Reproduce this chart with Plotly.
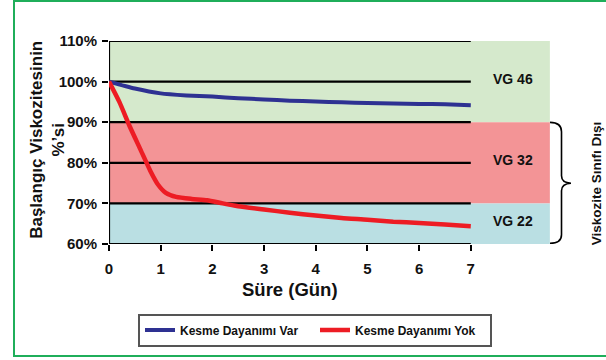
import plotly.graph_objects as go

# ---- data ----
days_var = [0, 0.5, 1, 1.5, 2, 2.5, 3, 3.5, 4, 4.5, 5, 5.5, 6, 6.5, 7]
visc_var = [100, 98.3, 97.1, 96.6, 96.3, 95.9, 95.6, 95.3, 95.1, 94.9, 94.7, 94.6, 94.5, 94.4, 94.2]

days_yok = [0, 0.2, 0.4, 0.6, 0.8, 0.95, 1.1, 1.3, 1.6, 1.9, 2.2, 2.5, 3, 3.5, 4, 4.5, 5, 5.5, 6, 6.5, 7]
visc_yok = [100, 95, 89, 83.5, 78, 74.6, 72.6, 71.6, 71.1, 70.8, 70.0, 69.3, 68.5, 67.7, 67.0, 66.4, 66.0, 65.5, 65.2, 64.8, 64.4]

series_names = ["Kesme Dayanımı Var", "Kesme Dayanımı Yok"]
series_colors = ["#2e3192", "#ed1c24"]

y_ticks = [60, 70, 80, 90, 100, 110]
y_tick_labels = ["60%", "70%", "80%", "90%", "100%", "110%"]
x_ticks = [0, 1, 2, 3, 4, 5, 6, 7]

bands = [  # (low, high, color, label)
    (90, 110, "#d5e9cc", "VG 46"),
    (70, 90, "#f39496", "VG 32"),
    (60, 70, "#badfe3", "VG 22"),
]
band_end = 8.53
x_max = 7
FONT = "Liberation Sans, Arial, sans-serif"

# plot area in pixels
L, R, T, B = 109, 600, 41, 244.3
PW, PH = R - L, B - T


def pxp(px):
    return (px - L) / PW


def pyp(py):
    return (B - py) / PH


fig = go.Figure()
fig.add_trace(go.Scatter(x=days_var, y=visc_var, mode="lines", name=f"<b>{series_names[0]}</b>",
                         line=dict(color=series_colors[0], width=4, shape="spline", smoothing=0.6)))
fig.add_trace(go.Scatter(x=days_yok, y=visc_yok, mode="lines", name=f"<b>{series_names[1]}</b>",
                         line=dict(color=series_colors[1], width=4.5, shape="spline", smoothing=0.6)))

shapes = []
for lo, hi, col, lab in bands:
    shapes.append(dict(type="rect", xref="x", yref="y", x0=0, x1=band_end, y0=lo, y1=hi,
                       fillcolor=col, line=dict(width=0), layer="below"))
for yv in y_ticks:
    shapes.append(dict(type="line", xref="x", yref="y", x0=0, x1=x_max, y0=yv, y1=yv,
                       line=dict(color="black", width=2.2), layer="below"))
shapes.append(dict(type="line", xref="x", yref="y", x0=0, x1=0, y0=60, y1=110,
                   line=dict(color="black", width=2.2), layer="below"))


def P(px, py):
    return f"{pxp(px):.4f},{pyp(py):.4f}"


brace = (f"M {P(550,122.5)} Q {P(561.5,122.5)} {P(561.5,132)} L {P(561.5,176)} "
         f"Q {P(561.5,183)} {P(571,183.5)} Q {P(561.5,184)} {P(561.5,191)} "
         f"L {P(561.5,235)} Q {P(561.5,243.5)} {P(550,243.5)}")
shapes.append(dict(type="path", xref="paper", yref="paper", path=brace,
                   line=dict(color="black", width=1.6)))

# green frame
shapes.append(dict(type="rect", xref="paper", yref="paper",
                   x0=pxp(14), x1=pxp(612), y0=pyp(356.5), y1=pyp(1),
                   line=dict(color="#1fae5a", width=2)))

annotations = []
for lo, hi, col, lab in bands:
    annotations.append(dict(x=7.81, y=(lo + hi) / 2 + 0.6, xref="x", yref="y", text=f"<b>{lab}</b>",
                            showarrow=False, font=dict(family=FONT, size=14, color="#111"),
                            xanchor="center", yanchor="middle"))
annotations.append(dict(x=pxp(596), y=pyp(183.5), xref="paper", yref="paper",
                        text="<b>Viskozite Sınıfı Dışı</b>", showarrow=False, textangle=-90,
                        xanchor="center", yanchor="middle",
                        font=dict(family=FONT, size=13.5, color="#111")))
annotations.append(dict(x=pxp(290), y=pyp(290), xref="paper", yref="paper", text="<b>Süre (Gün)</b>",
                        showarrow=False, font=dict(family=FONT, size=18.5, color="#111"),
                        xanchor="center", yanchor="middle"))
annotations.append(dict(x=pxp(48), y=pyp(140), xref="paper", yref="paper",
                        text="<b>Başlangıç Viskozitesinin<br>%’si</b>", showarrow=False, textangle=-90,
                        font=dict(family=FONT, size=17, color="#111"),
                        xanchor="center", yanchor="middle"))

fig.update_layout(
    width=606, height=360,
    margin=dict(l=L, r=606 - R, t=T, b=360 - B, pad=0, autoexpand=False),
    paper_bgcolor="white", plot_bgcolor="white",
    shapes=shapes, annotations=annotations,
    showlegend=True,
    legend=dict(orientation="h", x=pxp(138), y=pyp(314),
                xanchor="left", yanchor="top",
                bordercolor="#555", borderwidth=2, bgcolor="white",
                font=dict(family=FONT, size=12, color="#111"),
                entrywidth=130, entrywidthmode="pixels",
                itemwidth=30),
    font=dict(family=FONT, color="#111"),
)
fig.update_xaxes(range=[0, 9.5], tickvals=x_ticks, ticktext=[f"<b>{v}</b>" for v in x_ticks],
                 ticks="outside", ticklen=6, tickwidth=2, tickcolor="black",
                 showgrid=False, zeroline=False, showline=False, ticklabelstandoff=5,
                 tickfont=dict(family=FONT, size=15, color="#111"))
fig.update_yaxes(range=[60, 110], tickvals=y_ticks, ticktext=[f"<b>{t}</b>" for t in y_tick_labels],
                 ticks="outside", ticklen=6, tickwidth=2, tickcolor="black",
                 showgrid=False, zeroline=False, showline=False, ticklabelstandoff=2,
                 tickfont=dict(family=FONT, size=15, color="#111"))

fig.write_html("out.html", config={"displayModeBar": False},
               post_script="document.body.style.margin='0';document.body.style.overflow='hidden';")
